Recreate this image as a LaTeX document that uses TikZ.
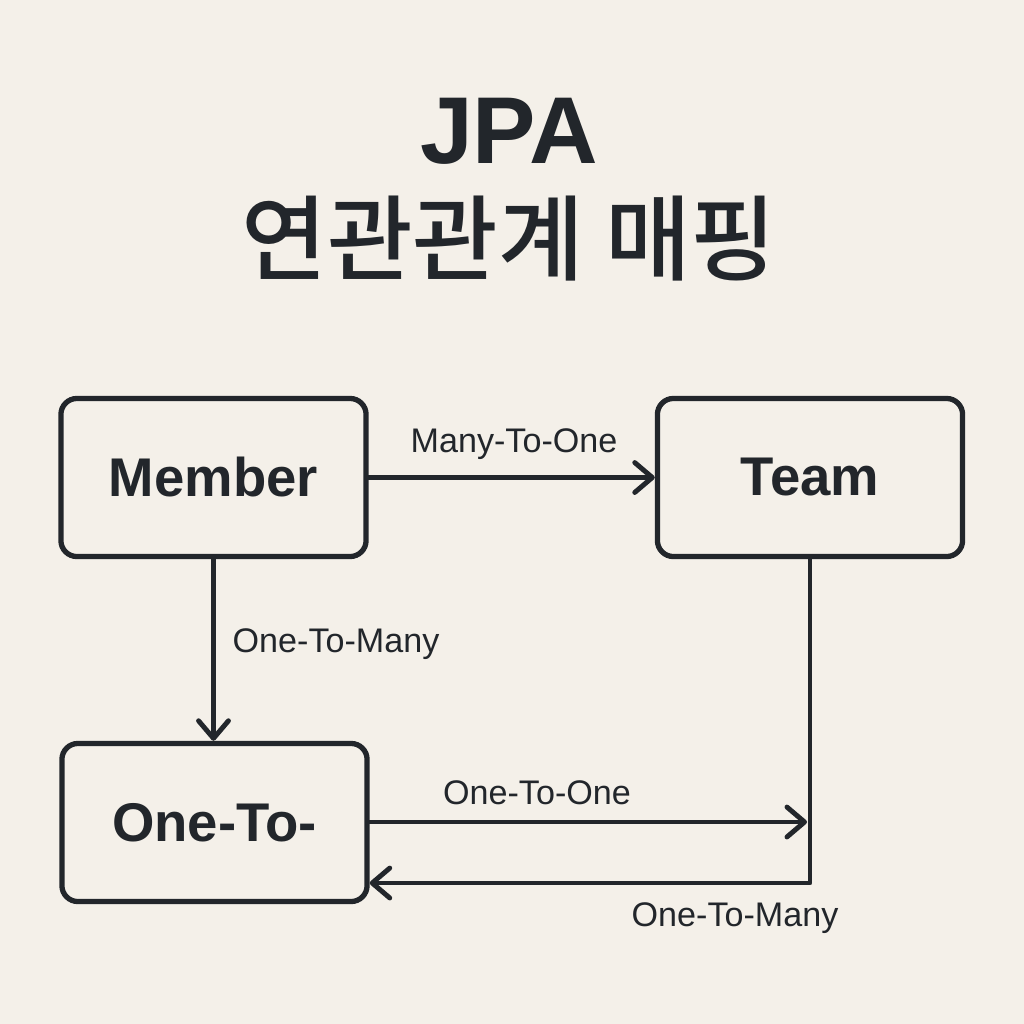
\documentclass[tikz,border=0pt]{standalone}
\usepackage{fontspec}
\setmainfont{Liberation Sans}
\newfontfamily\krfont{Noto Sans CJK KR Medium}
\usetikzlibrary{arrows.meta}
\definecolor{bgc}{HTML}{F4F0E9}
\definecolor{ink}{HTML}{22262B}
\begin{document}
\begin{tikzpicture}[x=0.01cm,y=-0.01cm,
  box/.style={draw=ink, line width=1.5pt, rounded corners=0.16cm, minimum width=3.05cm, minimum height=1.58cm, inner sep=0pt, font=\fontsize{15.5}{18}\selectfont\bfseries, text=ink},
  lbl/.style={font=\fontsize{9.7}{12}\selectfont, text=ink, inner sep=0pt},
  arr/.style={draw=ink, line width=1.4pt, line cap=round, line join=round, -{Straight Barb[length=5pt,width=8.5pt,line cap=round,line join=round]}},
  ]
\fill[bgc] (0,0) rectangle (1024,1024);
\useasboundingbox (0,0) rectangle (1024,1024);
\node[text=ink, font=\fontsize{27}{30}\selectfont\bfseries, anchor=base] (t1) at (509,163) {JPA};
\node[text=ink, font=\krfont\fontsize{26.5}{30}\selectfont] (t2) at (509,239) {연관관계 매핑};
\node[box] (mem) at (213.5,477.5) {Member};
\node[box] (team) at (810,477.5) {Team};
\node[box] (one) at (214.5,822.5) {One-To-};
\coordinate (p1) at (807,822);
\coordinate (corner) at (810,883);
\draw[arr] (mem.east) -- (team.west);
\node[lbl] (l1) at (514,444) {Many-To-One};
\draw[arr] (mem.south) -- (mem.south |- one.north);
\node[lbl, anchor=west] (l2) at (232,644) {One-To-Many};
\draw[arr] (one.east |- p1) -- (p1);
\node[lbl] (l3) at (537,793) {One-To-One};
\draw[arr, line cap=butt] (team.south) -- (corner) -- (corner -| one.east);
\node[lbl] (l4) at (735,918) {One-To-Many};
\end{tikzpicture}
\end{document}
